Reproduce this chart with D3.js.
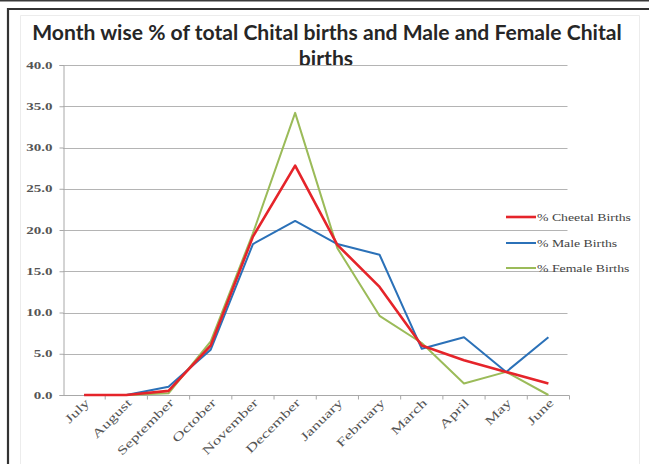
<!DOCTYPE html>
<html>
<head>
<meta charset="utf-8">
<script src="https://cdn.jsdelivr.net/npm/d3@7"></script>
<style>
  html, body { margin: 0; padding: 0; background: #fff; }
  svg { display: block; }
</style>
</head>
<body>
<svg id="chart" width="649" height="464"></svg>
<script>
// Month order of the birth season
const months = ["July", "August", "September", "October", "November", "December",
                "January", "February", "March", "April", "May", "June"];

// Percentage of births per month
const cheetalBirths = [0.0, 0.0, 0.5, 6.0, 19.2, 27.8, 18.2, 13.1, 6.0, 4.2, 2.8, 1.4];
const maleBirths    = [0.0, 0.0, 1.0, 5.5, 18.3, 21.1, 18.3, 17.0, 5.6, 7.0, 2.8, 7.0];
const femaleBirths  = [0.0, 0.0, 0.2, 6.5, 19.6, 34.2, 17.8, 9.6, 6.3, 1.4, 2.8, 0.0];

const seriesNames = ["% Cheetal Births", "% Male Births", "% Female Births"];
const yTicks = [0, 5, 10, 15, 20, 25, 30, 35, 40];

const titleLines = ["Month wise % of total Chital births and Male and Female Chital", "births"];

const series = [
  { name: seriesNames[0], values: cheetalBirths, color: "#e5242a", width: 2.6 },
  { name: seriesNames[1], values: maleBirths,    color: "#2b71b8", width: 2.0 },
  { name: seriesNames[2], values: femaleBirths,  color: "#9bbb59", width: 2.0 }
];

const svg = d3.select("#chart");
const W = 649, H = 464;
const serif = "'Liberation Serif', 'DejaVu Serif', serif";

// widen text glyphs horizontally by a factor
function stretch(sel, factor) {
  sel.each(function () {
    const n = this.getComputedTextLength();
    d3.select(this).attr("textLength", n * factor).attr("lengthAdjust", "spacingAndGlyphs");
  });
}

// Outer frame
svg.append("rect").attr("x", 0).attr("y", 0).attr("width", W).attr("height", H).attr("fill", "#fff");
svg.append("line").attr("x1", 0).attr("x2", W).attr("y1", 0.5).attr("y2", 0.5)
  .attr("stroke", "#3a3a3a").attr("stroke-width", 2);
svg.append("path").attr("d", `M8,${H} V9 H${W}`)
  .attr("fill", "none").attr("stroke", "#333").attr("stroke-width", 2.2);
// faint chart-area border
svg.append("path").attr("d", `M20.5,${H} V15.5 H639.5 V${H}`)
  .attr("fill", "none").attr("stroke", "#ececec").attr("stroke-width", 1);

const plot = { left: 63, right: 569.5, top: 65, bottom: 395 };

const x = d3.scaleBand().domain(months).range([plot.left, plot.right]).padding(0);
const y = d3.scaleLinear().domain([0, 40]).range([plot.bottom, plot.top]);

// Title
const title = svg.append("g").attr("font-family", "Lato, 'Open Sans', sans-serif")
  .attr("font-weight", "bold").attr("fill", "#262626").attr("text-anchor", "middle");
const t1 = title.append("text").attr("x", 327).attr("y", 40).attr("font-size", 18).text(titleLines[0]);
const len = t1.node().getComputedTextLength();
const fs = 18 * 590 / len;
t1.attr("font-size", fs);
title.append("text").attr("x", 326).attr("y", 66).attr("font-size", fs).text(titleLines[1]);

// Gridlines
svg.append("g").selectAll("line").data(yTicks.slice(1)).join("line")
  .attr("x1", plot.left).attr("x2", plot.right - 2)
  .attr("y1", d => Math.round(y(d)) + 0.5).attr("y2", d => Math.round(y(d)) + 0.5)
  .attr("stroke", "#b4b4b4").attr("stroke-width", 1);

// Y axis
const yAxis = svg.append("g").attr("transform", `translate(${plot.left + 0.5},0)`)
  .call(d3.axisLeft(y).tickValues(yTicks).tickFormat(d3.format(".1f")).tickSize(4).tickPadding(7));
yAxis.select(".domain").attr("stroke", "#a8a8a8");
yAxis.selectAll(".tick line").attr("stroke", "#a8a8a8");
yAxis.selectAll("text").attr("font-family", serif)
  .attr("font-weight", "bold").attr("font-size", 10).attr("fill", "#555")
  .call(stretch, 1.5);

// X axis with boundary ticks
const xAxisG = svg.append("g").attr("transform", `translate(0,${plot.bottom + 0.5})`);
xAxisG.append("line").attr("x1", plot.left).attr("x2", plot.right)
  .attr("stroke", "#a8a8a8");
xAxisG.selectAll("line.tk").data(months).join("line").attr("class", "tk")
  .attr("x1", d => x(d) + x.bandwidth()).attr("x2", d => x(d) + x.bandwidth())
  .attr("y1", 0).attr("y2", 4).attr("stroke", "#a8a8a8");
xAxisG.selectAll("text").data(months).join("text")
  .attr("transform", d => `translate(${x(d) + x.bandwidth() / 2 + 6},${8}) rotate(-45)`)
  .attr("text-anchor", "end")
  .attr("font-family", serif)
  .attr("font-size", 12).attr("fill", "#555")
  .text(d => d)
  .call(stretch, 1.45);

// Lines
const line = d3.line()
  .x((d, i) => x(months[i]) + x.bandwidth() / 2)
  .y(d => y(d));

svg.append("g").selectAll("path").data([series[2], series[1], series[0]]).join("path")
  .attr("d", d => line(d.values))
  .attr("fill", "none")
  .attr("stroke", d => d.color)
  .attr("stroke-width", d => d.width)
  .attr("stroke-linejoin", "round");

// Legend
const legend = svg.append("g");
const ly = [217, 243, 268];
series.forEach((s, i) => {
  legend.append("line").attr("x1", 506).attr("x2", 536)
    .attr("y1", ly[i]).attr("y2", ly[i])
    .attr("stroke", s.color).attr("stroke-width", s.width);
  legend.append("text").attr("x", 537).attr("y", ly[i] + 4)
    .attr("font-family", serif)
    .attr("font-size", 11).attr("fill", "#444")
    .text(s.name)
    .call(stretch, 1.25);
});
</script>
</body>
</html>
